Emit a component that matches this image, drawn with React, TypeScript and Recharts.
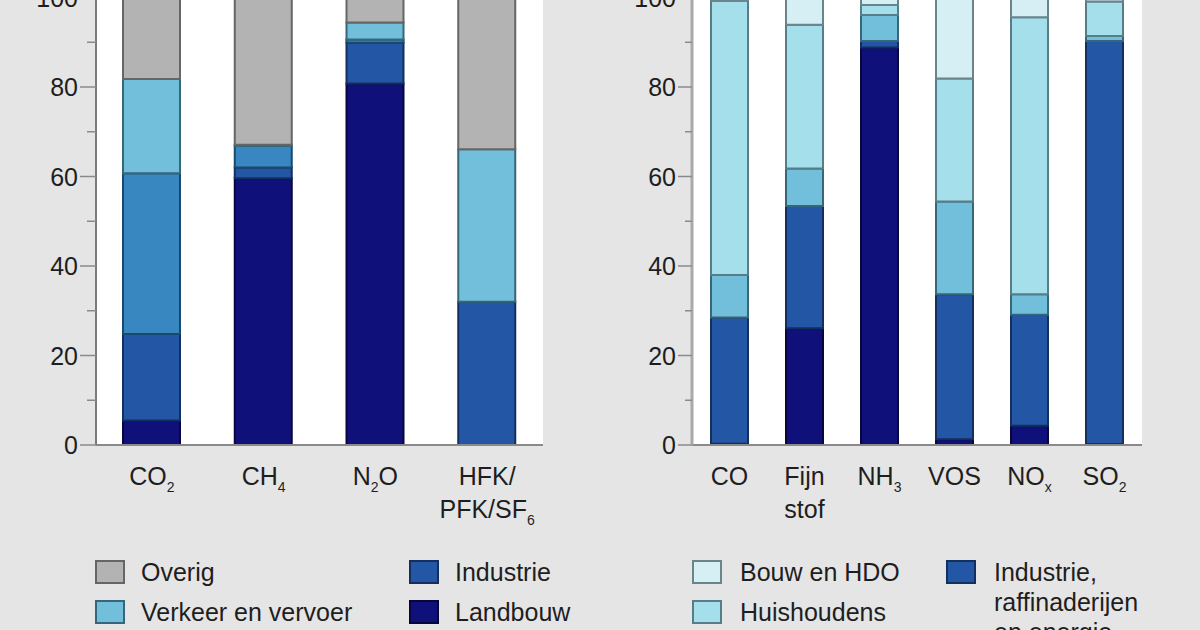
import React from 'react';
import { BarChart, Bar, XAxis, YAxis, CartesianGrid } from 'recharts';

// ---------- Left panel: broeikasgassen ----------
const leftCategories = ['CO2', 'CH4', 'N2O', 'HFK/PFK/SF6'];
const leftCategoryLabels = ['CO_2', 'CH_4', 'N_2O', 'HFK/|PFK/SF_6'];
const leftLandbouw = [5.5, 59.6, 80.8, 0];
const leftIndustrie = [19.3, 2.4, 9.1, 32.0];
const leftEnergie = [35.9, 4.8, 0.7, 0];
const leftVerkeer = [21.1, 0.3, 3.8, 34.1];
const leftOverig = [18.2, 32.9, 5.6, 33.9];

// ---------- Right panel: luchtverontreinigende stoffen ----------
const rightCategories = ['CO', 'Fijn stof', 'NH3', 'VOS', 'NOx', 'SO2'];
const rightCategoryLabels = ['CO', 'Fijn|stof', 'NH_3', 'VOS', 'NO_x', 'SO_2'];
const rightLandbouw = [0.3, 26.1, 88.8, 1.3, 4.3, 0.2];
const rightIndustrie = [28.2, 27.3, 1.5, 32.4, 24.8, 90.1];
const rightVerkeer = [9.5, 8.4, 5.8, 20.7, 4.6, 1.1];
const rightHuishoudens = [61.3, 32.1, 2.2, 27.5, 61.9, 7.7];
const rightBouw = [0.7, 6.1, 1.7, 18.1, 4.4, 0.9];

const yTicks = [0, 10, 20, 30, 40, 50, 60, 70, 80, 90, 100];

const C = {
  landbouw: { fill: '#10107a', stroke: '#07073d' },
  industrie: { fill: '#2356a5', stroke: '#132f5e' },
  energie: { fill: '#3887c0', stroke: '#1a4a6b' },
  verkeer: { fill: '#72bfdb', stroke: '#36667a' },
  overig: { fill: '#b3b3b3', stroke: '#666666' },
  huishoudens: { fill: '#a6dfec', stroke: '#567e88' },
  bouw: { fill: '#d6eff5', stroke: '#6a848b' },
};

const leftSeries = [
  { key: 'landbouw', name: 'Landbouw', values: leftLandbouw, color: C.landbouw },
  { key: 'industrie', name: 'Industrie', values: leftIndustrie, color: C.industrie },
  { key: 'energie', name: 'Energie', values: leftEnergie, color: C.energie },
  { key: 'verkeer', name: 'Verkeer en vervoer', values: leftVerkeer, color: C.verkeer },
  { key: 'overig', name: 'Overig', values: leftOverig, color: C.overig },
];

const rightSeries = [
  { key: 'landbouw', name: 'Landbouw', values: rightLandbouw, color: C.landbouw },
  { key: 'industrie', name: 'Industrie,|raffinaderijen|en energie', values: rightIndustrie, color: C.industrie },
  { key: 'verkeer', name: 'Verkeer en vervoer', values: rightVerkeer, color: C.verkeer },
  { key: 'huishoudens', name: 'Huishoudens', values: rightHuishoudens, color: C.huishoudens },
  { key: 'bouw', name: 'Bouw en HDO', values: rightBouw, color: C.bouw },
];

const leftData = leftCategories.map((c, i) => {
  const row: any = { cat: c, label: leftCategoryLabels[i] };
  leftSeries.forEach((s) => (row[s.key] = s.values[i]));
  return row;
});
const rightData = rightCategories.map((c, i) => {
  const row: any = { cat: c, label: rightCategoryLabels[i] };
  rightSeries.forEach((s) => (row[s.key] = s.values[i]));
  return row;
});

const FONT = '"Liberation Sans", Arial, Helvetica, sans-serif';
const TEXT = '#1e1e1e';

function renderRich(line: string) {
  // '_x' => subscript single char
  const parts: React.ReactNode[] = [];
  let i = 0;
  let k = 0;
  let buf = '';
  while (i < line.length) {
    if (line[i] === '_' && i + 1 < line.length) {
      if (buf) parts.push(<tspan key={k++}>{buf}</tspan>);
      buf = '';
      parts.push(
        <tspan key={k++} fontSize={14} dy={7}>
          {line[i + 1]}
        </tspan>
      );
      i += 2;
      if (i < line.length) {
        let rest = '';
        while (i < line.length && line[i] !== '_') {
          rest += line[i];
          i++;
        }
        parts.push(
          <tspan key={k++} dy={-7}>
            {rest}
          </tspan>
        );
      }
    } else {
      buf += line[i];
      i++;
    }
  }
  if (buf) parts.push(<tspan key={k++}>{buf}</tspan>);
  return parts;
}

const makeXTick = (labels: string[], cats: string[]) => (props: any) => {
  const { x, y, payload } = props;
  const idx = cats.indexOf(payload.value);
  const lines = (labels[idx] || '').split('|');
  return (
    <g>
      {lines.map((ln, li) => (
        <text
          key={li}
          x={x}
          y={y + 40 + li * 33}
          textAnchor="middle"
          fontSize={25}
          fontFamily={FONT}
          fill={TEXT}
        >
          {renderRich(ln)}
        </text>
      ))}
    </g>
  );
};

const makeYTick = (majorLen: number, minorLen: number, tickColor: string) => (props: any) => {
  const { x, y, payload } = props;
  const v = payload.value;
  const isMajor = v % 20 === 0;
  return (
    <g>
      <line x1={x - (isMajor ? majorLen : minorLen)} x2={x} y1={y} y2={y} stroke={tickColor} strokeWidth={1.5} />
      {isMajor && (
        <text x={x - majorLen - 2} y={y} dy="0.36em" textAnchor="end" fontSize={25} fontFamily={FONT} fill={TEXT}>
          {v}
        </text>
      )}
    </g>
  );
};

type LegendItem = { name: string; color: { fill: string; stroke: string } };

function Legend2Col({
  cols,
  swatchX,
  textX,
  top,
}: {
  cols: LegendItem[][];
  swatchX: number[];
  textX: number[];
  top: number;
}) {
  const rowH = 40;
  const lineH = 30;
  return (
    <>
      {cols.map((col, ci) => {
        let yc = top;
        return col.map((it, ri) => {
          const lines = it.name.split('|');
          const cy = yc;
          yc += Math.max(rowH, (lines.length - 1) * lineH + rowH);
          return (
            <div key={ci + '-' + ri}>
              <div
                style={{
                  position: 'absolute',
                  left: swatchX[ci],
                  top: cy - 12,
                  width: 30,
                  height: 24,
                  boxSizing: 'border-box',
                  background: it.color.fill,
                  border: '2px solid ' + it.color.stroke,
                }}
              />
              {lines.map((ln, li) => (
                <div
                  key={li}
                  style={{
                    position: 'absolute',
                    left: textX[ci],
                    top: cy + li * lineH - 15,
                    height: 30,
                    lineHeight: '30px',
                    fontSize: 25,
                    fontFamily: FONT,
                    color: TEXT,
                    whiteSpace: 'nowrap',
                  }}
                >
                  {ln}
                </div>
              ))}
            </div>
          );
        });
      })}
    </>
  );
}

const CHART_TOP = -30;

export default function App() {
  const leftTop = leftSeries.slice().reverse(); // overig, verkeer, energie, industrie, landbouw
  const rightTop = rightSeries.slice().reverse(); // bouw, huishoudens, verkeer, industrie, landbouw
  return (
    <div
      style={{
        position: 'absolute',
        left: 0,
        top: 0,
        width: 1200,
        height: 630,
        overflow: 'hidden',
        background: '#e5e5e5',
        fontFamily: FONT,
      }}
    >
      <div style={{ position: 'absolute', left: 0, top: CHART_TOP }}>
        <BarChart
          width={600}
          height={595}
          data={leftData}
          margin={{ top: 27.5, right: 57, bottom: 0, left: 0 }}
          barSize={57}
        >
          <CartesianGrid fill="#ffffff" horizontal={false} vertical={false} stroke="none" />
          <XAxis
            dataKey="cat"
            height={120}
            interval={0}
            tickLine={false}
            tickSize={0}
            tickMargin={0}
            axisLine={{ stroke: '#8a8a8a', strokeWidth: 2 }}
            tick={makeXTick(leftCategoryLabels, leftCategories)}
          />
          <YAxis
            width={96}
            domain={[0, 100]}
            ticks={yTicks}
            interval={0}
            tickLine={false}
            tickSize={0}
            tickMargin={0}
            axisLine={{ stroke: '#7a7a7a', strokeWidth: 2 }}
            tick={makeYTick(16, 9, '#8a8a8a')}
          />
          {leftSeries.map((s) => (
            <Bar
              key={s.key}
              dataKey={s.key}
              name={s.name}
              stackId="a"
              fill={s.color.fill}
              stroke={s.color.stroke}
              strokeWidth={2}
              isAnimationActive={false}
            />
          ))}
        </BarChart>
      </div>

      <div style={{ position: 'absolute', left: 600, top: CHART_TOP }}>
        <BarChart
          width={600}
          height={595}
          data={rightData}
          margin={{ top: 27.5, right: 58, bottom: 0, left: 0 }}
          barSize={37}
        >
          <CartesianGrid fill="#ffffff" horizontal={false} vertical={false} stroke="none" />
          <XAxis
            dataKey="cat"
            height={120}
            interval={0}
            tickLine={false}
            tickSize={0}
            tickMargin={0}
            axisLine={{ stroke: '#8a8a8a', strokeWidth: 2 }}
            tick={makeXTick(rightCategoryLabels, rightCategories)}
          />
          <YAxis
            width={92}
            domain={[0, 100]}
            ticks={yTicks}
            interval={0}
            tickLine={false}
            tickSize={0}
            tickMargin={0}
            axisLine={{ stroke: '#a9a9a9', strokeWidth: 3 }}
            tick={makeYTick(14, 7, '#8a8a8a')}
          />
          {rightSeries.map((s) => (
            <Bar
              key={s.key}
              dataKey={s.key}
              name={s.name.replace(/\|/g, ' ')}
              stackId="b"
              fill={s.color.fill}
              stroke={s.color.stroke}
              strokeWidth={2}
              isAnimationActive={false}
            />
          ))}
        </BarChart>
      </div>

      <Legend2Col
        cols={[leftTop.slice(0, 3), leftTop.slice(3)]}
        swatchX={[95, 409]}
        textX={[141, 455]}
        top={572}
      />
      <Legend2Col
        cols={[rightTop.slice(0, 3), rightTop.slice(3)]}
        swatchX={[692, 946]}
        textX={[740, 994]}
        top={572}
      />
    </div>
  );
}
